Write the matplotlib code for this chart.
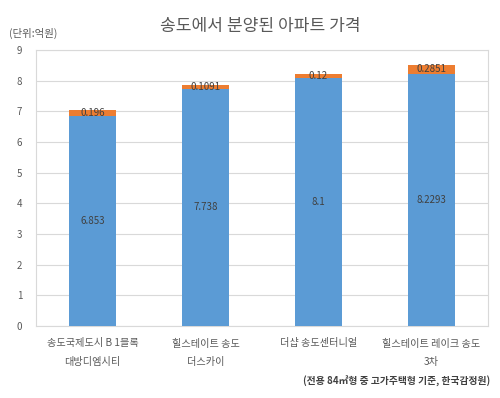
import matplotlib
matplotlib.use('Agg')
import matplotlib.pyplot as plt
import numpy as np

plt.rcParams['font.family'] = ['Noto Sans CJK KR', 'DejaVu Sans']

# 데이터
categories = ['송도국제도시 B 1블록\n대방디엠시티', '힐스테이트 송도\n더스카이', '더샵 송도센터니얼', '힐스테이트 레이크 송도\n3차']
base_values = [6.853, 7.738, 8.1, 8.2293]
extra_values = [0.196, 0.1091, 0.12, 0.2851]
base_labels = ['6.853', '7.738', '8.1', '8.2293']
extra_labels = ['0.196', '0.1091', '0.12', '0.2851']

blue = '#5b9bd5'
orange = '#ed7d31'

fig = plt.figure(figsize=(5, 3.98), dpi=100)
ax = fig.add_axes([0.072, 0.181, 0.904, 0.693])

x = np.arange(len(categories))
ax.bar(x, base_values, width=0.41, color=blue, zorder=3)
ax.bar(x, extra_values, width=0.41, bottom=base_values, color=orange, zorder=3)

for i in range(len(categories)):
    ax.text(x[i], base_values[i] / 2, base_labels[i], ha='center', va='center', fontsize=7, color='#404040', zorder=4)
    ax.text(x[i], base_values[i] + extra_values[i] / 2, extra_labels[i], ha='center', va='center', fontsize=7, color='#404040', zorder=4)

ax.set_xlim(-0.5, 3.5)
ax.set_ylim(0, 9)
ax.set_yticks(range(10))
ax.tick_params(axis='y', length=0, labelsize=7, colors='#595959', pad=10)
ax.tick_params(axis='x', length=0, labelsize=7.3, colors='#595959', pad=9)
ax.set_xticks(x)
ax.set_xticklabels(categories, linespacing=2.1)
ax.grid(axis='y', color='#d9d9d9', linewidth=0.8, zorder=0)
for s in ax.spines.values():
    s.set_color('#d9d9d9')
    s.set_linewidth(0.8)

fig.text(0.52, 0.935, '송도에서 분양된 아파트 가격', ha='center', va='center', fontsize=12.3, color='#595959')
fig.text(0.018, 0.915, '(단위:억원)', ha='left', va='center', fontsize=7.5, color='#595959')
fig.text(0.98, 0.042, '(전용 84㎡형 중 고가주택형 기준, 한국감정원)', ha='right', va='center', fontsize=7, color='#404040', fontweight='bold')

fig.savefig('out.png', dpi=100, facecolor='white')
